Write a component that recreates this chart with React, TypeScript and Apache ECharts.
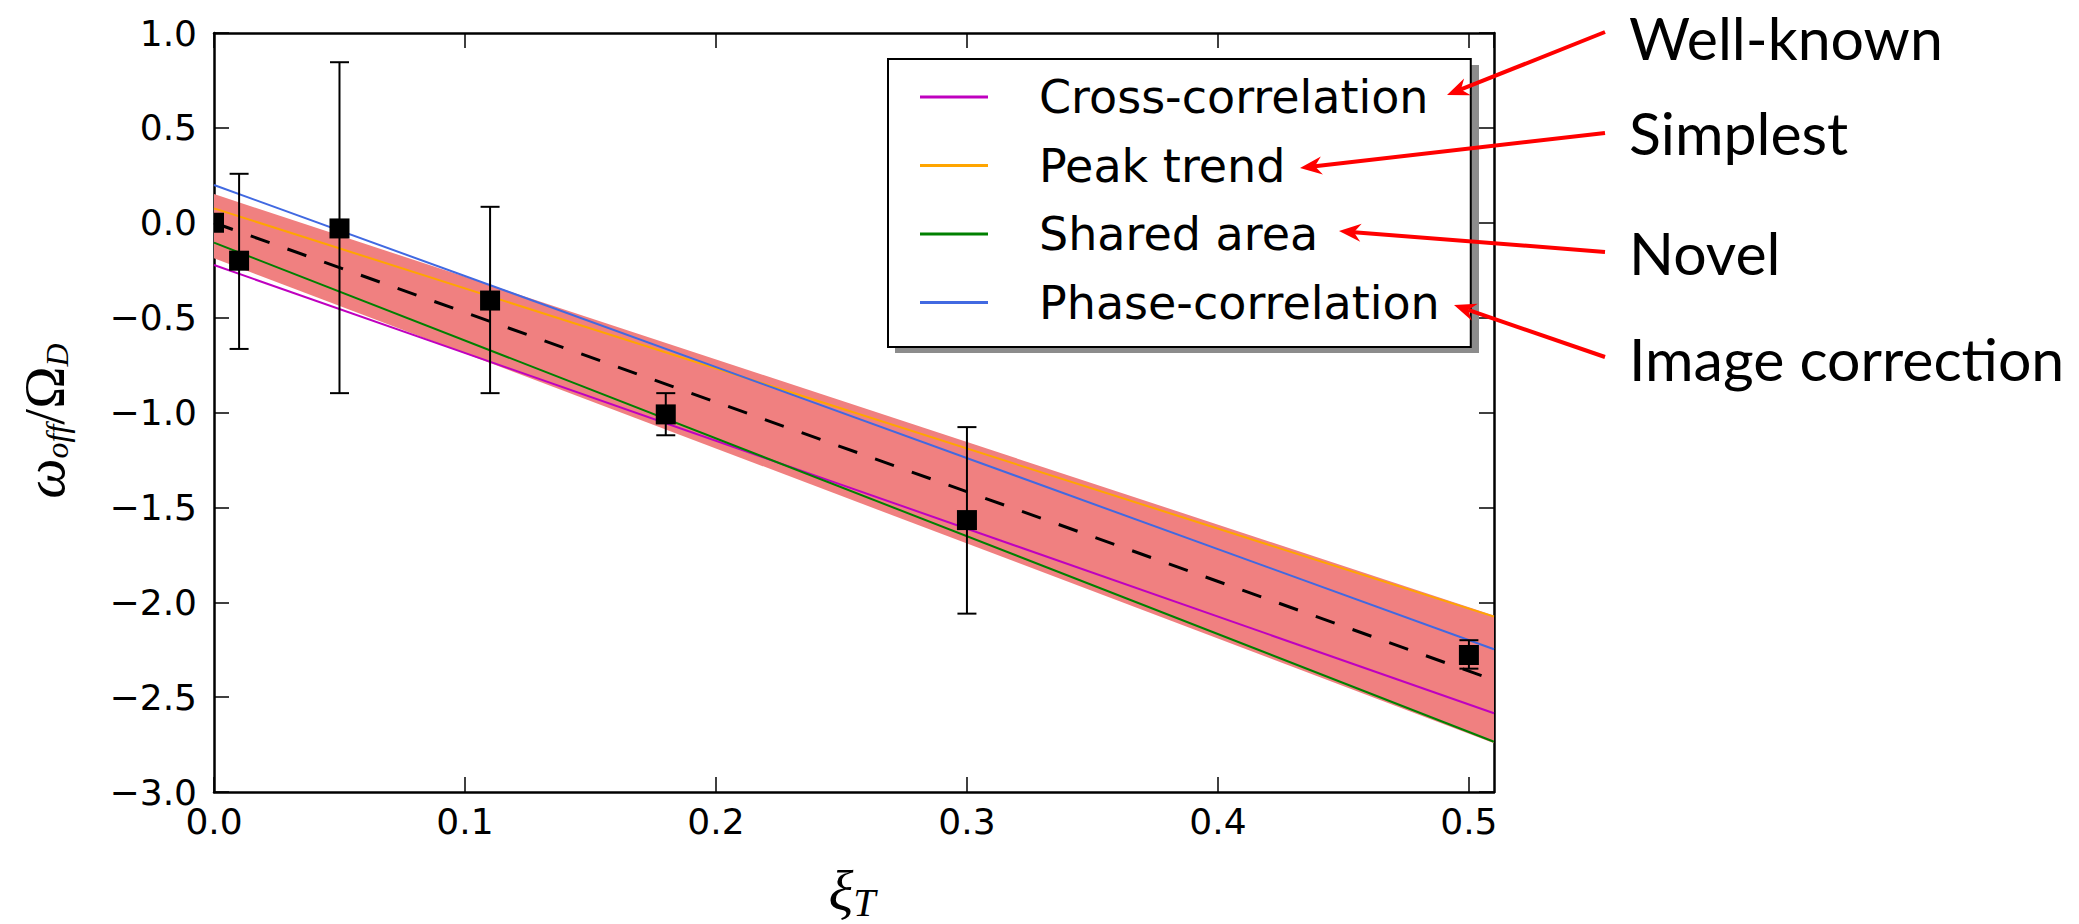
import React, { useEffect, useRef } from 'react';
import * as echarts from 'echarts';

// ---- data ----
const lineX = [0, 0.51];
const crossCorr = [-0.223, -2.585];
const peakTrend = [0.076, -2.076];
const sharedArea = [-0.105, -2.735];
const phaseCorr = [0.199, -2.248];
const fitLine = [0.0, -2.41];
const bandHigh = [0.151, -2.07];
const bandLow = [-0.187, -2.743];

const ptX = [0, 0.01, 0.05, 0.11, 0.18, 0.3, 0.5];
const ptY = [0.0, -0.2, -0.03, -0.41, -1.01, -1.567, -2.278];
const errLow = [0.0, -0.665, -0.898, -0.898, -1.12, -2.06, -2.35];
const errHigh = [0.0, 0.258, 0.846, 0.084, -0.898, -1.077, -2.2];

const seriesNames = ['Cross-correlation', 'Peak trend', 'Shared area', 'Phase-correlation'];
const seriesColors = ['#BF00BF', '#FFA500', '#008000', '#4169E1'];
const seriesValues = [crossCorr, peakTrend, sharedArea, phaseCorr];

const annoTexts = ['Well-known', 'Simplest', 'Novel', 'Image correction'];

function arrowEls(sx: number, sy: number, tx: number, ty: number) {
  const dx = tx - sx, dy = ty - sy;
  const len = Math.hypot(dx, dy);
  const ux = dx / len, uy = dy / len;
  const nx = -uy, ny = ux;
  const L = 22, W = 9, N = 15;
  const bx = tx - ux * L, by = ty - uy * L;
  const mx = tx - ux * N, my = ty - uy * N;
  return [
    { type: 'line', z: 30, shape: { x1: sx, y1: sy, x2: mx, y2: my }, style: { stroke: '#FF0000', lineWidth: 4 } },
    {
      type: 'polygon', z: 30,
      shape: { points: [[tx, ty], [bx + nx * W, by + ny * W], [mx, my], [bx - nx * W, by - ny * W]] },
      style: { fill: '#FF0000' },
    },
  ];
}

export default function App() {
  const ref = useRef<HTMLDivElement>(null);
  useEffect(() => {
    document.body.style.margin = '0';
    const chart = echarts.init(ref.current!, null, { renderer: 'svg' });
    const mk = (vals: number[]) => lineX.map((x, i) => [x, vals[i]]);

    const tickStyle = { inside: true, length: 15, lineStyle: { color: '#000', width: 1.5 } };
    const axisLine = { show: true, onZero: false, lineStyle: { color: '#000', width: 2.5 } };
    const labelFont = { fontSize: 36, fontFamily: 'DejaVu Sans', color: '#000' };
    const fmtX = (v: number) => v.toFixed(1);
    const fmtY = (v: number) => v.toFixed(1).replace('-', '\u2212');

    const arrowSpecs = [
      [1605, 32, 1447, 95],
      [1605, 133, 1300, 168],
      [1605, 252, 1339, 231],
      [1605, 357, 1454, 305],
    ];
    const annoY = [37, 132, 252, 358];

    const graphics: any[] = [];
    // legend shadow
    graphics.push({
      type: 'rect', z: 5,
      shape: { x: 895, y: 65, width: 584, height: 288 },
      style: { fill: 'rgba(0,0,0,0.45)' },
    });
    arrowSpecs.forEach((a) => graphics.push(...arrowEls(a[0], a[1], a[2], a[3])));
    annoTexts.forEach((t, i) =>
      graphics.push({
        type: 'text', z: 30, x: 1629, y: annoY[i],
        style: {
          text: t, fontSize: 59, lineHeight: 60, fontFamily: 'Lato', fill: '#000',
          align: 'left', verticalAlign: 'middle',
        },
      })
    );
    // axis titles
    graphics.push({
      type: 'text', z: 30, x: 852, y: 890,
      style: {
        text: '{i|ξ}{s|T}', align: 'center', verticalAlign: 'middle',
        rich: {
          i: { fontSize: 58, fontFamily: 'Liberation Serif', fontStyle: 'italic', fill: '#000', lineHeight: 70, verticalAlign: 'middle' },
          s: { fontSize: 40, fontFamily: 'Liberation Serif', fontStyle: 'italic', fill: '#000', lineHeight: 70, padding: [24, 0, 0, 0], verticalAlign: 'middle' },
        },
      },
    });
    graphics.push({
      type: 'text', z: 30, x: 44, y: 421, rotation: Math.PI / 2,
      style: {
        text: '{i|ω}{s|off}{u|/}{u|Ω}{s|D}', align: 'center', verticalAlign: 'middle',
        rich: {
          i: { fontSize: 57, fontFamily: 'Liberation Serif', fontStyle: 'italic', fill: '#000', lineHeight: 72, verticalAlign: 'middle' },
          u: { fontSize: 57, fontFamily: 'Liberation Serif', fill: '#000', lineHeight: 72, verticalAlign: 'middle' },
          s: { fontSize: 32, fontFamily: 'Liberation Serif', fontStyle: 'italic', fill: '#000', lineHeight: 72, padding: [26, 0, 0, 0], verticalAlign: 'middle' },
        },
      },
    });

    const option: any = {
      animation: false,
      backgroundColor: '#fff',
      grid: { left: 214, top: 33, width: 1280, height: 759, containLabel: false },
      xAxis: [
        {
          type: 'value', min: 0, max: 0.51, interval: 0.1, position: 'bottom',
          axisLine, axisTick: tickStyle,
          axisLabel: { ...labelFont, margin: 11, formatter: fmtX, showMaxLabel: false },
          splitLine: { show: false },
        },
        {
          type: 'value', min: 0, max: 0.51, interval: 0.1, position: 'top',
          axisLine, axisTick: tickStyle, axisLabel: { show: false }, splitLine: { show: false },
        },
      ],
      yAxis: [
        {
          type: 'value', min: -3, max: 1, interval: 0.5, position: 'left',
          axisLine, axisTick: tickStyle,
          axisLabel: { ...labelFont, margin: 17, formatter: fmtY },
          splitLine: { show: false },
        },
        {
          type: 'value', min: -3, max: 1, interval: 0.5, position: 'right',
          axisLine, axisTick: tickStyle, axisLabel: { show: false }, splitLine: { show: false },
        },
      ],
      legend: {
        z: 10,
        orient: 'vertical', left: 888, top: 59,
        data: seriesNames.map((n) => ({ name: n, icon: 'rect' })),
        selectedMode: false,
        itemWidth: 68, itemHeight: 3, itemGap: 22.5,
        padding: [15, 31, 21.5, 32],
        backgroundColor: '#fff', borderColor: '#000', borderWidth: 2, borderRadius: 0,
        formatter: (name: string) => `{g|}{t|${name}}`,
        textStyle: {
          rich: {
            g: { width: 46, lineHeight: 46 },
            t: { fontSize: 46, fontFamily: 'DejaVu Sans', color: '#000', lineHeight: 46 },
          },
        },
      },
      graphic: { elements: graphics },
      series: [
        {
          type: 'custom', name: 'band', z: 1, clip: true,
          data: [[0, 0]],
          renderItem: (params: any, api: any) => {
            const top = lineX.map((x, i) => api.coord([x, bandHigh[i]]));
            const bot = lineX.map((x, i) => api.coord([x, bandLow[i]])).reverse();
            return { type: 'polygon', shape: { points: top.concat(bot) }, style: { fill: '#F08080' } };
          },
        },
        ...seriesNames.map((n, k) => ({
          type: 'line', name: n, data: mk(seriesValues[k]), symbol: 'none', z: 2,
          lineStyle: { color: seriesColors[k], width: 2 }, itemStyle: { color: seriesColors[k] },
        })),
        {
          type: 'line', name: 'fit', data: mk(fitLine), symbol: 'none', z: 3,
          lineStyle: { color: '#000', width: 3, type: [20, 19] },
        },
        {
          type: 'custom', name: 'measured', z: 4, clip: true,
          encode: { x: 0, y: 1 },
          data: ptX.map((x, i) => [x, ptY[i], errLow[i], errHigh[i]]),
          renderItem: (params: any, api: any) => {
            const x = api.value(0), y = api.value(1), lo = api.value(2), hi = api.value(3);
            const p = api.coord([x, y]);
            const pl = api.coord([x, lo]);
            const ph = api.coord([x, hi]);
            const cap = 9.5;
            const st = { stroke: '#000', lineWidth: 2 };
            const children: any[] = [];
            if (hi !== lo) {
              children.push({ type: 'line', shape: { x1: ph[0], y1: ph[1], x2: pl[0], y2: pl[1] }, style: st });
              children.push({ type: 'line', shape: { x1: ph[0] - cap, y1: ph[1], x2: ph[0] + cap, y2: ph[1] }, style: st });
              children.push({ type: 'line', shape: { x1: pl[0] - cap, y1: pl[1], x2: pl[0] + cap, y2: pl[1] }, style: st });
            }
            children.push({ type: 'rect', shape: { x: p[0] - 10, y: p[1] - 10, width: 20, height: 20 }, style: { fill: '#000' } });
            return { type: 'group', children };
          },
        },
      ],
    };
    chart.setOption(option);
    return () => chart.dispose();
  }, []);
  return <div ref={ref} style={{ width: 2079, height: 924 }} />;
}
